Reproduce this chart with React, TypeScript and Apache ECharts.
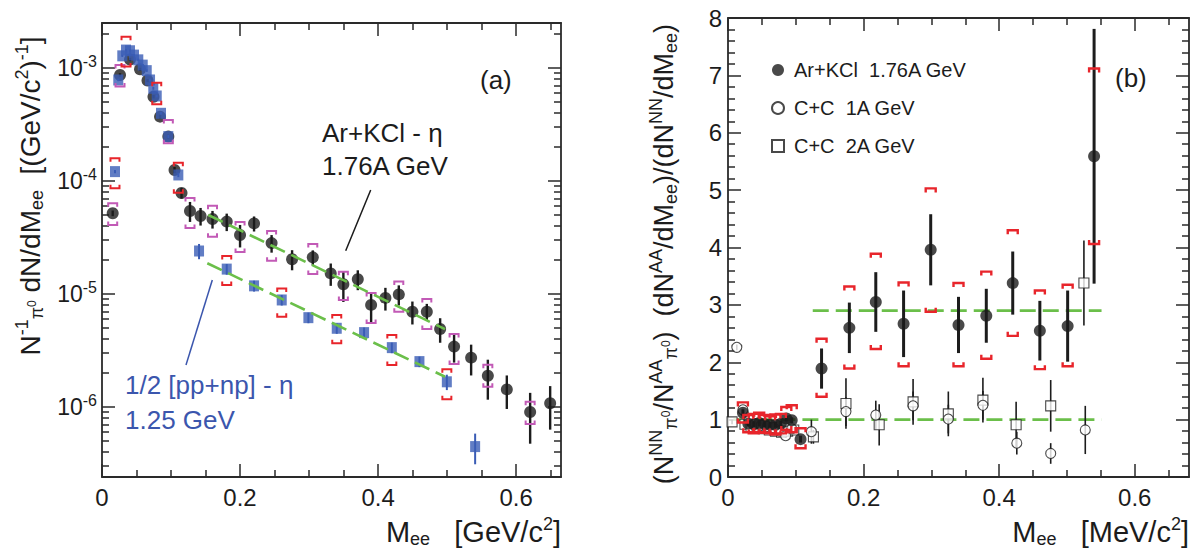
import React, { useEffect, useRef } from 'react';
import * as echarts from 'echarts';

const FONT = "'Liberation Sans', Arial, Helvetica, sans-serif";
const INK = '#1c1c1c';
const FRAME = '#2a2a2a';
const GREEN = '#6bbf4a';
const BLUE = '#3a5cb5';
const BLUE_TEXT = '#3b56ad';
const RED = '#e8252b';
const MAGENTA = '#c25ab6';

// ---------------- Panel (a): yields ----------------
const arMass = [0.0155, 0.0261, 0.0406, 0.0551, 0.0659, 0.0746, 0.0841, 0.0961, 0.1051, 0.1152, 0.1275, 0.1428, 0.1601, 0.1807, 0.2, 0.2203, 0.2457, 0.2754, 0.3054, 0.3314, 0.3497, 0.3706, 0.3899, 0.4106, 0.43, 0.4497, 0.4706, 0.4899, 0.5101, 0.5348, 0.559, 0.5865, 0.6203, 0.6493];
const arYield = [5.18e-5, 8.67e-4, 1.19e-3, 9.74e-4, 7.75e-4, 5.57e-4, 3.71e-4, 2.47e-4, 1.25e-4, 7.83e-5, 5.43e-5, 4.9e-5, 4.61e-5, 4.37e-5, 3.33e-5, 4.21e-5, 2.82e-5, 2.03e-5, 2.11e-5, 1.52e-5, 1.22e-5, 1.35e-5, 8.0e-6, 9.23e-6, 9.91e-6, 6.97e-6, 6.97e-6, 4.9e-6, 3.42e-6, 2.73e-6, 1.89e-6, 1.43e-6, 9.03e-7, 1.08e-6];
const arErr = [3e-6, 3e-5, 4e-5, 3e-5, 2.5e-5, 2e-5, 1.5e-5, 1e-5, 8e-6, 8.4e-6, 1.09e-5, 8.7e-6, 8.2e-6, 7.7e-6, 7.5e-6, 6.4e-6, 5.0e-6, 4.1e-6, 3.2e-6, 3.4e-6, 3.7e-6, 2.7e-6, 2.4e-6, 2.1e-6, 2.0e-6, 1.6e-6, 1.2e-6, 1.2e-6, 9.5e-7, 8.3e-7, 7.3e-7, 4.7e-7, 4.3e-7, 4.5e-7];
const arSysMass = [0.0155, 0.0261, 0.0961, 0.1275, 0.1601, 0.2, 0.2457, 0.3054, 0.3497, 0.3899, 0.43, 0.4706, 0.5101, 0.559, 0.6203];
const arSysLow = [4.08e-5, 6.84e-4, 2.16e-4, 3.84e-5, 3.21e-5, 2.35e-5, 1.97e-5, 1.5e-5, 8.85e-6, 5.53e-6, 6.97e-6, 4.9e-6, 2.4e-6, 1.51e-6, 7.08e-7];
const arSysHigh = [6.35e-5, 1.06e-3, 3.47e-4, 7.08e-5, 6.04e-5, 4.34e-5, 3.61e-5, 2.77e-5, 1.57e-5, 1.02e-5, 1.29e-5, 9.03e-6, 4.43e-6, 2.36e-6, 1.11e-6];

const ppMass = [0.0188, 0.0236, 0.0294, 0.0348, 0.0406, 0.0464, 0.0526, 0.059, 0.0648, 0.0696, 0.0743, 0.0793, 0.0855, 0.0961, 0.1106, 0.1406, 0.1807, 0.2203, 0.2604, 0.299, 0.3401, 0.3797, 0.4199, 0.4599, 0.4996, 0.5406];
const ppYield = [1.21e-4, 7.83e-4, 1.28e-3, 1.44e-3, 1.42e-3, 1.3e-3, 1.18e-3, 1.06e-3, 9.47e-4, 7.83e-4, 6.61e-4, 5.65e-4, 3.97e-4, 2.47e-4, 1.13e-4, 2.4e-5, 1.66e-5, 1.18e-5, 8.85e-6, 6.17e-6, 4.97e-6, 4.55e-6, 3.35e-6, 2.52e-6, 1.67e-6, 4.46e-7];
const ppErr = [4e-6, 2e-5, 3e-5, 3e-5, 3e-5, 3e-5, 3e-5, 2.5e-5, 2.5e-5, 2e-5, 2e-5, 1.5e-5, 1e-5, 8e-6, 5e-6, 3.7e-6, 1.8e-6, 1.3e-6, 9.5e-7, 6.6e-7, 5.3e-7, 4.9e-7, 3.6e-7, 2.7e-7, 2.6e-7, 1.35e-7];
const ppSysMass = [0.0188, 0.0348, 0.0793, 0.1106, 0.1807, 0.2604, 0.3401, 0.4199, 0.4996];
const ppSysLow = [8.61e-5, 1.03e-3, 4.78e-4, 7.87e-5, 1.2e-5, 6.3e-6, 3.66e-6, 2.35e-6, 1.17e-6];
const ppSysHigh = [1.59e-4, 1.89e-3, 7.41e-4, 1.45e-4, 2.17e-5, 1.12e-5, 6.52e-6, 4.34e-6, 2.16e-6];

const arFitMass = [0.154, 0.497];
const arFitYield = [5.0e-5, 4.88e-6];
const ppFitMass = [0.1526, 0.497];
const ppFitYield = [1.87e-5, 1.85e-6];

const aXMin = 0;
const aXMax = 0.665;
const aYMin = 2.4e-7;
const aYMax = 2.5e-3;
const aXMajor = [0, 0.2, 0.4, 0.6];
const aXMinor = [0.05, 0.1, 0.15, 0.25, 0.3, 0.35, 0.45, 0.5, 0.55, 0.65];
const aYDecades = [-6, -5, -4, -3];
const aYMinorSteps = [2, 3, 4, 5, 6, 7, 8, 9];

// ---------------- Panel (b): ratios ----------------
const bArMass = [0.022, 0.03, 0.038, 0.046, 0.054, 0.062, 0.07, 0.078, 0.086, 0.094, 0.107, 0.138, 0.179, 0.218, 0.259, 0.299, 0.34, 0.381, 0.42, 0.46, 0.501, 0.54];
const bArRatio = [1.12, 0.93, 0.92, 0.94, 0.92, 0.91, 0.91, 0.93, 1.02, 0.99, 0.66, 1.89, 2.6, 3.05, 2.67, 3.96, 2.65, 2.81, 3.38, 2.55, 2.63, 5.59];
const bArErr = [0.06, 0.05, 0.05, 0.05, 0.05, 0.05, 0.05, 0.05, 0.05, 0.05, 0.06, 0.35, 0.44, 0.52, 0.58, 0.62, 0.49, 0.47, 0.55, 0.52, 0.62, 2.22];
const bArSysLow = [0.95, 0.78, 0.76, 0.78, 0.77, 0.76, 0.74, 0.76, 0.82, 0.78, 0.5, 1.4, 1.89, 2.23, 1.93, 2.88, 1.93, 2.06, 2.46, 1.88, 1.93, 4.06];
const bArSysHigh = [1.3, 1.08, 1.1, 1.12, 1.08, 1.06, 1.09, 1.1, 1.22, 1.25, 0.85, 2.41, 3.32, 3.89, 3.39, 5.03, 3.38, 3.58, 4.3, 3.25, 3.35, 7.12];

const cc1Mass = [0.013, 0.022, 0.031, 0.04, 0.049, 0.058, 0.067, 0.076, 0.085, 0.094, 0.123, 0.174, 0.218, 0.273, 0.325, 0.376, 0.426, 0.476, 0.527];
const cc1Ratio = [2.26, 1.17, 1.0, 0.93, 0.9, 0.88, 0.86, 0.8, 0.72, 0.84, 0.79, 1.14, 1.08, 1.24, 1.01, 1.25, 0.59, 0.41, 0.82];
const cc1Err = [0.05, 0.05, 0.04, 0.04, 0.04, 0.04, 0.04, 0.04, 0.04, 0.05, 0.21, 0.25, 0.25, 0.25, 0.25, 0.25, 0.2, 0.18, 0.42];

const cc2Mass = [0.006, 0.025, 0.034, 0.043, 0.052, 0.061, 0.07, 0.079, 0.088, 0.097, 0.126, 0.174, 0.223, 0.273, 0.325, 0.376, 0.425, 0.476, 0.525];
const cc2Ratio = [0.96, 0.92, 0.88, 0.86, 0.84, 0.82, 0.8, 0.78, 0.8, 0.82, 0.7, 1.28, 0.91, 1.31, 1.1, 1.34, 0.91, 1.24, 3.38];
const cc2Err = [0.04, 0.04, 0.04, 0.04, 0.04, 0.04, 0.04, 0.04, 0.04, 0.05, 0.12, 0.44, 0.36, 0.4, 0.39, 0.39, 0.4, 0.45, 0.74];

const plateauStart = [0.125, 0.008];
const plateauEnd = [0.551, 0.551];
const plateauLevel = [2.9, 1.0];

const bXMax = 0.68;
const bYMax = 8;
const bXMajor = [0, 0.2, 0.4, 0.6];
const bXMinor = [0.05, 0.1, 0.15, 0.25, 0.3, 0.35, 0.45, 0.5, 0.55, 0.65];
const bYMajor = [0, 1, 2, 3, 4, 5, 6, 7, 8];

const LEG_AR = 'Ar+KCl  1.76A GeV';
const LEG_CC1 = 'C+C  1A GeV';
const LEG_CC2 = 'C+C  2A GeV';

function frameAxis(o: any) {
  return {
    type: 'value',
    gridIndex: o.grid,
    position: o.pos,
    min: o.min,
    max: o.max,
    axisLine: { show: !!o.line, onZero: false, lineStyle: { color: FRAME, width: 1.8 } },
    axisTick: { show: true, inside: true, length: o.len, customValues: o.ticks, lineStyle: { color: FRAME, width: 1.5 } },
    axisLabel: o.labels
      ? {
          show: true,
          customValues: o.ticks,
          formatter: o.labels.formatter,
          margin: o.labels.margin,
          fontSize: o.labels.fontSize,
          fontFamily: FONT,
          color: INK,
          rich: o.labels.rich,
        }
      : { show: false },
    splitLine: { show: false },
    minorTick: { show: false },
    silent: true,
  };
}

function errorBars(xi: number, yi: number, xs: number[], ys: number[], es: number[], color: string, width: number, z: number) {
  return {
    type: 'custom',
    xAxisIndex: xi,
    yAxisIndex: yi,
    z,
    silent: true,
    encode: { x: 0, y: [1, 2] },
    data: xs.map((x, i) => [x, ys[i] - es[i], ys[i] + es[i]]),
    renderItem: (_p: any, api: any) => {
      const a = api.coord([api.value(0), api.value(1)]);
      const b = api.coord([api.value(0), api.value(2)]);
      return {
        type: 'line',
        shape: { x1: a[0], y1: a[1], x2: b[0], y2: b[1] },
        style: { stroke: color, lineWidth: width },
      };
    },
  };
}

function brackets(xi: number, yi: number, xs: number[], lo: number[], hi: number[], color: string, halfW: number, tip: number, width: number, z: number) {
  return {
    type: 'custom',
    xAxisIndex: xi,
    yAxisIndex: yi,
    z,
    silent: true,
    encode: { x: 0, y: [1, 2] },
    data: xs.map((x, i) => [x, lo[i], hi[i]]),
    renderItem: (_p: any, api: any) => {
      const l = api.coord([api.value(0), api.value(1)]);
      const h = api.coord([api.value(0), api.value(2)]);
      const x = l[0];
      const st = { stroke: color, fill: 'none', lineWidth: width };
      return {
        type: 'group',
        children: [
          { type: 'polyline', shape: { points: [[x - halfW, h[1] + tip], [x - halfW, h[1]], [x + halfW, h[1]], [x + halfW, h[1] + tip]] }, style: st },
          { type: 'polyline', shape: { points: [[x - halfW, l[1] - tip], [x - halfW, l[1]], [x + halfW, l[1]], [x + halfW, l[1] - tip]] }, style: st },
        ],
      };
    },
  };
}

function buildOption() {
  const yMinLog = Math.log10(aYMin);
  const yMaxLog = Math.log10(aYMax);
  const aYMinor: number[] = [];
  for (let n = -7; n <= -3; n++) aYMinorSteps.forEach((k) => aYMinor.push(n + Math.log10(k)));
  const bYMinor: number[] = [];
  for (let i = 1; i < 40; i++) if (i % 5 !== 0) bYMinor.push(i / 5);

  const xFmt = (v: number) => (Math.abs(v) < 1e-9 ? '0' : v.toFixed(1));
  const supRich = { sup: { fontSize: 16, fontFamily: FONT, color: INK, padding: [0, 0, 13, 0] } };

  const xAxis = [
    frameAxis({ grid: 0, pos: 'bottom', min: aXMin, max: aXMax, ticks: aXMajor, len: 13, line: true, labels: { formatter: xFmt, margin: 8, fontSize: 24 } }),
    frameAxis({ grid: 0, pos: 'bottom', min: aXMin, max: aXMax, ticks: aXMinor, len: 7 }),
    frameAxis({ grid: 0, pos: 'top', min: aXMin, max: aXMax, ticks: aXMajor, len: 13, line: true }),
    frameAxis({ grid: 0, pos: 'top', min: aXMin, max: aXMax, ticks: aXMinor, len: 7 }),
    frameAxis({ grid: 1, pos: 'bottom', min: 0, max: bXMax, ticks: bXMajor, len: 13, line: true, labels: { formatter: xFmt, margin: 8, fontSize: 24 } }),
    frameAxis({ grid: 1, pos: 'bottom', min: 0, max: bXMax, ticks: bXMinor, len: 7 }),
    frameAxis({ grid: 1, pos: 'top', min: 0, max: bXMax, ticks: bXMajor, len: 13, line: true }),
    frameAxis({ grid: 1, pos: 'top', min: 0, max: bXMax, ticks: bXMinor, len: 7 }),
  ];

  const yAxis = [
    { type: 'log', logBase: 10, gridIndex: 0, min: aYMin, max: aYMax, show: false, splitLine: { show: false } },
    frameAxis({ grid: 0, pos: 'left', min: yMinLog, max: yMaxLog, ticks: aYDecades, len: 13, line: true, labels: { formatter: (v: number) => '10{sup|' + Math.round(v) + '}', margin: 5, fontSize: 23, rich: supRich } }),
    frameAxis({ grid: 0, pos: 'left', min: yMinLog, max: yMaxLog, ticks: aYMinor, len: 7 }),
    frameAxis({ grid: 0, pos: 'right', min: yMinLog, max: yMaxLog, ticks: aYDecades, len: 13, line: true }),
    frameAxis({ grid: 0, pos: 'right', min: yMinLog, max: yMaxLog, ticks: aYMinor, len: 7 }),
    frameAxis({ grid: 1, pos: 'left', min: 0, max: bYMax, ticks: bYMajor, len: 13, line: true, labels: { formatter: (v: number) => String(Math.round(v)), margin: 6, fontSize: 24 } }),
    frameAxis({ grid: 1, pos: 'left', min: 0, max: bYMax, ticks: bYMinor, len: 7 }),
    frameAxis({ grid: 1, pos: 'right', min: 0, max: bYMax, ticks: bYMajor, len: 13, line: true }),
    frameAxis({ grid: 1, pos: 'right', min: 0, max: bYMax, ticks: bYMinor, len: 7 }),
  ];

  const dash = { color: GREEN, width: 2.6, type: [16, 7] };

  const series: any[] = [
    // ---- panel (a)
    errorBars(0, 0, arMass, arYield, arErr, INK, 2.4, 3),
    { type: 'scatter', name: 'Ar+KCl - η', xAxisIndex: 0, yAxisIndex: 0, z: 4, symbol: 'circle', symbolSize: 12, itemStyle: { color: INK }, data: arMass.map((x, i) => [x, arYield[i]]) },
    errorBars(0, 0, ppMass, ppYield, ppErr, BLUE, 2, 5),
    { type: 'scatter', name: '1/2 [pp+np] - η', xAxisIndex: 0, yAxisIndex: 0, z: 6, symbol: 'rect', symbolSize: [10, 11], itemStyle: { color: BLUE }, data: ppMass.map((x, i) => [x, ppYield[i]]) },
    brackets(0, 0, arSysMass, arSysLow, arSysHigh, MAGENTA, 4.5, 3.5, 2, 7),
    brackets(0, 0, ppSysMass, ppSysLow, ppSysHigh, RED, 4.5, 3.5, 2, 7),
    { type: 'line', xAxisIndex: 0, yAxisIndex: 0, z: 8, symbol: 'none', showSymbol: false, lineStyle: dash, data: arFitMass.map((x, i) => [x, arFitYield[i]]) },
    { type: 'line', xAxisIndex: 0, yAxisIndex: 0, z: 8, symbol: 'none', showSymbol: false, lineStyle: dash, data: ppFitMass.map((x, i) => [x, ppFitYield[i]]) },
    // ---- panel (b)
    ...plateauLevel.map((lv, i) => ({ type: 'line', xAxisIndex: 4, yAxisIndex: 5, z: 2, symbol: 'none', showSymbol: false, lineStyle: dash, data: [[plateauStart[i], lv], [plateauEnd[i], lv]] })),
    errorBars(4, 5, cc2Mass, cc2Ratio, cc2Err, INK, 1.6, 3),
    errorBars(4, 5, cc1Mass, cc1Ratio, cc1Err, INK, 1.6, 3),
    { type: 'scatter', name: LEG_CC2, xAxisIndex: 4, yAxisIndex: 5, z: 4, symbol: 'rect', symbolSize: 10, itemStyle: { color: '#ffffff', borderColor: INK, borderWidth: 1.1 }, data: cc2Mass.map((x, i) => [x, cc2Ratio[i]]) },
    { type: 'scatter', name: LEG_CC1, xAxisIndex: 4, yAxisIndex: 5, z: 4, symbol: 'circle', symbolSize: 10, itemStyle: { color: '#ffffff', borderColor: INK, borderWidth: 1.1 }, data: cc1Mass.map((x, i) => [x, cc1Ratio[i]]) },
    errorBars(4, 5, bArMass, bArRatio, bArErr, INK, 3, 5),
    { type: 'scatter', name: LEG_AR, xAxisIndex: 4, yAxisIndex: 5, z: 6, symbol: 'circle', symbolSize: 12, itemStyle: { color: INK }, data: bArMass.map((x, i) => [x, bArRatio[i]]) },
    brackets(4, 5, bArMass, bArSysLow, bArSysHigh, RED, 5, 4, 2.4, 7),
  ];

  const sub = { fontSize: 18, fontFamily: FONT, color: INK, padding: [14, 0, 0, 0] };
  const sup = { fontSize: 18, fontFamily: FONT, color: INK, padding: [0, 0, 16, 0] };
  const subsup = { fontSize: 12, fontFamily: FONT, color: INK, padding: [4, 0, 0, 0] };
  const titleRich = { sub, sup, subsup };

  const graphic = [
    { type: 'text', x: 30, y: 196, rotation: Math.PI / 2, style: { text: 'N{sup|-1}{sub|π}{subsup|0} dN/dM{sub|ee}  [(GeV/c{sup|2}){sup|-1}]', fontSize: 28, fontFamily: FONT, fill: INK, align: 'center', verticalAlign: 'middle', rich: titleRich } },
    { type: 'text', x: 561, y: 532, style: { text: 'M{sub|ee}   [GeV/c{sup|2}]', fontSize: 29, fontFamily: FONT, fill: INK, align: 'right', verticalAlign: 'middle', rich: titleRich } },
    { type: 'text', x: 664, y: 254, rotation: Math.PI / 2, style: { text: '(N{sup|NN}{sub|π}{subsup|0}/N{sup|AA}{sub|π}{subsup|0})  (dN{sup|AA}/dM{sub|ee})/(dN{sup|NN}/dM{sub|ee})', fontSize: 27, fontFamily: FONT, fill: INK, align: 'center', verticalAlign: 'middle', rich: titleRich } },
    { type: 'text', x: 1189, y: 532, style: { text: 'M{sub|ee}   [MeV/c{sup|2}]', fontSize: 29, fontFamily: FONT, fill: INK, align: 'right', verticalAlign: 'middle', rich: titleRich } },
    { type: 'text', x: 480, y: 80, style: { text: '(a)', fontSize: 26, fontFamily: FONT, fill: INK, align: 'left', verticalAlign: 'middle' } },
    { type: 'text', x: 1115, y: 78, style: { text: '(b)', fontSize: 26, fontFamily: FONT, fill: INK, align: 'left', verticalAlign: 'middle' } },
    { type: 'text', x: 322, y: 133, style: { text: 'Ar+KCl - η', fontSize: 26, fontFamily: FONT, fill: INK, align: 'left', verticalAlign: 'middle' } },
    { type: 'text', x: 322, y: 166, style: { text: '1.76A GeV', fontSize: 26, fontFamily: FONT, fill: INK, align: 'left', verticalAlign: 'middle' } },
    { type: 'line', shape: { x1: 370.7, y1: 190, x2: 345.7, y2: 250.7 }, style: { stroke: INK, lineWidth: 1.5 } },
    { type: 'text', x: 125, y: 385, style: { text: '1/2 [pp+np] - η', fontSize: 26, fontFamily: FONT, fill: BLUE_TEXT, align: 'left', verticalAlign: 'middle' } },
    { type: 'text', x: 125, y: 420, style: { text: '1.25 GeV', fontSize: 26, fontFamily: FONT, fill: BLUE_TEXT, align: 'left', verticalAlign: 'middle' } },
    { type: 'line', shape: { x1: 212.3, y1: 280, x2: 186, y2: 365 }, style: { stroke: BLUE_TEXT, lineWidth: 1.5 } },
  ];

  return {
    animation: false,
    backgroundColor: '#ffffff',
    grid: [
      { left: 102, top: 23, width: 459, height: 454, containLabel: false },
      { left: 728, top: 18, width: 461, height: 459, containLabel: false },
    ],
    legend: {
      data: [LEG_AR, LEG_CC1, LEG_CC2],
      orient: 'vertical',
      left: 766,
      top: 55,
      itemWidth: 12,
      itemHeight: 12,
      itemGap: 18,
      selectedMode: false,
      textStyle: { fontSize: 20, fontFamily: FONT, color: INK, padding: [0, 0, 0, 5] },
    },
    xAxis,
    yAxis,
    series,
    graphic,
  };
}

export default function App() {
  const ref = useRef<HTMLDivElement>(null);
  useEffect(() => {
    const chart = echarts.init(ref.current as HTMLDivElement, null, { renderer: 'svg' });
    chart.setOption(buildOption() as any);
    return () => chart.dispose();
  }, []);
  return <div ref={ref} style={{ position: 'fixed', left: 0, top: 0, width: 1196, height: 551, background: '#fff' }} />;
}
